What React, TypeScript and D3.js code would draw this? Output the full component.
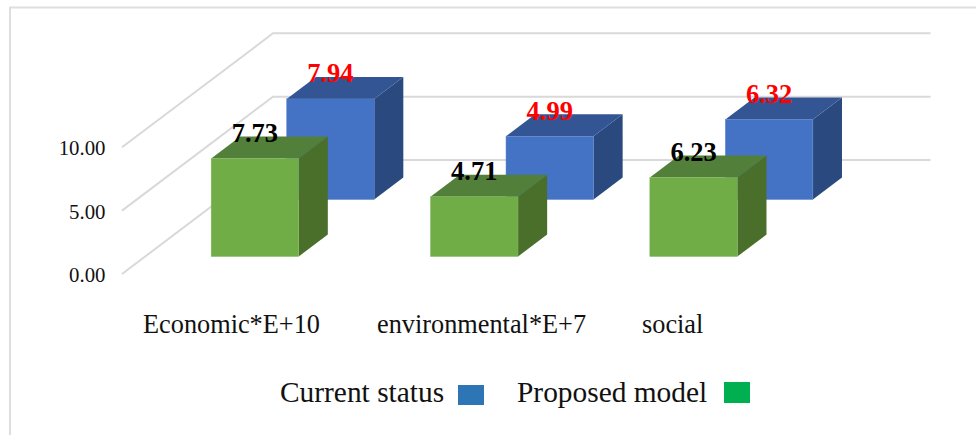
import React from "react";
import * as d3 from "d3";

// Chart values
const categories = ["Economic*E+10", "environmental*E+7", "social"];
const currentStatus = [7.94, 4.99, 6.32];
const proposedModel = [7.73, 4.71, 6.23];
const yTicks = [0, 5, 10];
const categoryLabelX = [143, 377, 642];

const FONT = "'Liberation Serif', 'Times New Roman', serif";
const GRID = "#D9D9D9";

// Oblique projection of the 3D plot box: moving back by one pixel of height shifts right as well.
const DEPTH_X_PER_Y = 151 / 114;
const FLOOR_DEPTH = 114;

const xBand = d3.scaleBand<string>().domain(categories).range([123, 781]);
const yFront = d3.scaleLinear().domain([0, 10]).range([274, 147.3]);
const barHeight = (v: number) => yFront(0) - yFront(v);

const BAR_INSET = 65;
const BAR_WIDTH = 87.5;
const BOX_DEPTH = 22;

type Series = {
  values: number[];
  depth: number;
  front: string;
  top: string;
  side: string;
  edge: string;
  label: string;
};

const series: Series[] = [
  { values: currentStatus, depth: 74.5, front: "#4472C4", top: "#335593", side: "#2A4A7F", edge: "#5F85CC", label: "#FF0000" },
  { values: proposedModel, depth: 17.5, front: "#70AD47", top: "#52803A", side: "#4A6F2B", edge: "#82B862", label: "#000000" },
];

const pts = (p: number[][]) => p.map((q) => q.join(",")).join(" ");

function Box({ s, i }: { s: Series; i: number }) {
  const v = s.values[i];
  const shift = s.depth * DEPTH_X_PER_Y;
  const x0 = (xBand(categories[i]) as number) + BAR_INSET + shift;
  const x1 = x0 + BAR_WIDTH;
  const base = yFront(0) - s.depth;
  const topY = base - barHeight(v);
  const dx = BOX_DEPTH * DEPTH_X_PER_Y;
  const dy = BOX_DEPTH;
  return (
    <g>
      <polygon points={pts([[x1, topY], [x1 + dx, topY - dy], [x1 + dx, base - dy], [x1, base]])} fill={s.side} />
      <polygon points={pts([[x0, topY], [x0 + dx, topY - dy], [x1 + dx, topY - dy], [x1, topY]])} fill={s.top} />
      <rect x={x0} y={topY} width={BAR_WIDTH} height={base - topY} fill={s.front} stroke={s.edge} strokeWidth={0.5} />
    </g>
  );
}

function BoxLabel({ s, i }: { s: Series; i: number }) {
  const v = s.values[i];
  const shift = s.depth * DEPTH_X_PER_Y;
  const cx = (xBand(categories[i]) as number) + BAR_INSET + shift + BAR_WIDTH / 2;
  const topY = yFront(0) - s.depth - barHeight(v);
  return (
    <text x={cx} y={topY - 16.5} textAnchor="middle" fontFamily={FONT} fontWeight="bold" fontSize={26.5} fill={s.label}>
      {v.toFixed(2)}
    </text>
  );
}

export default function App() {
  const backX0 = 123 + FLOOR_DEPTH * DEPTH_X_PER_Y - 1;
  return (
    <svg width={976} height={435} style={{ position: "absolute", left: 0, top: 0, display: "block", background: "#fff" }}>
      {/* outer frame */}
      <path d="M10 435 V7.5 H976" fill="none" stroke="#DEDEDE" strokeWidth={2} />

      {/* value axis: floor-side diagonals and back wall rules */}
      {yTicks.map((t) => (
        <g key={t}>
          <polyline
            points={pts([[122, yFront(t)], [backX0, yFront(t) - FLOOR_DEPTH], [930.5, yFront(t) - FLOOR_DEPTH]])}
            fill="none"
            stroke={GRID}
            strokeWidth={2}
          />
          <text x={105.5} y={yFront(t) + 8} textAnchor="end" fontFamily={FONT} fontSize={20.8} fill="#111">
            {t.toFixed(2)}
          </text>
        </g>
      ))}

      {/* boxes, rear series first */}
      {series.map((s) => categories.map((c, i) => <Box key={s.label + c} s={s} i={i} />))}
      {series.map((s) => categories.map((c, i) => <BoxLabel key={s.label + c} s={s} i={i} />))}

      {/* category labels */}
      {categories.map((c, i) => (
        <text key={c} x={categoryLabelX[i]} y={332.5} fontFamily={FONT} fontSize={26.3} fill="#111">
          {c}
        </text>
      ))}

      {/* legend */}
      <text x={280} y={402} fontFamily={FONT} fontSize={29.4} fill="#111">Current status</text>
      <rect x={458} y={385} width={26} height={20} fill="#2E75B6" />
      <text x={517} y={402} fontFamily={FONT} fontSize={29.4} fill="#111">Proposed model</text>
      <rect x={724} y={382} width={26} height={21} fill="#00B050" />
    </svg>
  );
}
